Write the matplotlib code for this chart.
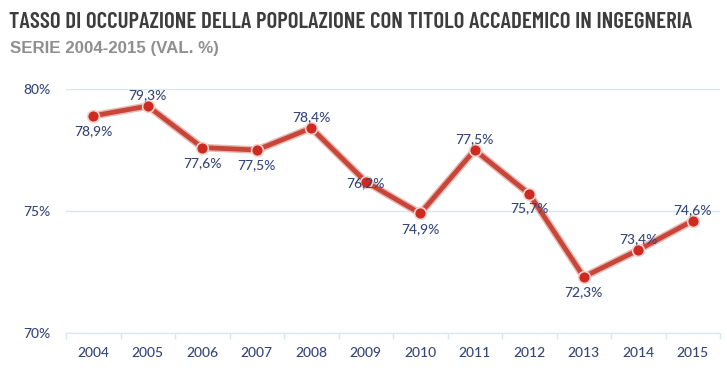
import matplotlib
matplotlib.use("Agg")
import matplotlib.pyplot as plt
import numpy as np

years = ["2004", "2005", "2006", "2007", "2008", "2009", "2010", "2011", "2012", "2013", "2014", "2015"]
values = [78.9, 79.3, 77.6, 77.5, 78.4, 76.2, 74.9, 77.5, 75.7, 72.3, 73.4, 74.6]
labels = ["78,9%", "79,3%", "77,6%", "77,5%", "78,4%", "76,2%", "74,9%", "77,5%", "75,7%", "72,3%", "73,4%", "74,6%"]
label_pos = ["below", "above", "below", "below", "above", "center", "below", "above", "below", "below", "above", "above"]
yticks = [70, 75, 80]
ytick_labels = ["70%", "75%", "80%"]

title = "TASSO DI OCCUPAZIONE DELLA POPOLAZIONE CON TITOLO ACCADEMICO IN INGEGNERIA"
subtitle = "SERIE 2004-2015 (VAL. %)"

fig = plt.figure(figsize=(7.27, 3.68), dpi=100)
ax = fig.add_axes([66/727, 1 - 333/368, (720 - 66)/727, (333 - 89)/368])

x = np.arange(len(years))
lab_color = "#34477a"
grid_color = "#d8e6f0"
lab_font = ["Lato", "DejaVu Sans"]

for yv in yticks:
    ax.axhline(yv, color=grid_color, lw=1.0, zorder=0)

# soft shadow under the line
ax.plot(x, values, color="#e9b8b0", lw=5.5, zorder=2, solid_capstyle="round", clip_on=False)
ax.plot(x, values, color="#c8453a", lw=3.4, zorder=3, solid_capstyle="round",
        marker="o", markersize=8.5, markerfacecolor="#cf2a22", markeredgecolor="#f3d4cc",
        markeredgewidth=1.2, clip_on=False)

offsets = {"above": 8, "below": -11, "center": -1}
for xi, v, t, p in zip(x, values, labels, label_pos):
    off = offsets[p]
    if years[xi] == "2012":
        off = -10
    ax.annotate(t, (xi, v), xytext=(0, off), textcoords="offset points",
                ha="center", va="center", fontsize=10, color=lab_color,
                family=lab_font, fontweight="medium", zorder=5)

ax.set_xlim(-0.5, len(years) - 0.5)
ax.set_ylim(70, 80)
ax.set_xticks(x)
ax.set_xticklabels(years, fontsize=10, color=lab_color, family=lab_font, fontweight="medium")
ax.set_xticks(np.arange(-0.5, len(years), 1), minor=True)
ax.tick_params(axis="x", which="major", length=0, pad=10)
ax.tick_params(axis="x", which="minor", length=4, color=grid_color, width=1)
ax.set_yticks(yticks)
ax.set_yticklabels(ytick_labels, fontsize=10, color=lab_color, family=lab_font, fontweight="medium")
ax.tick_params(axis="y", length=0, pad=11)
for s in ["top", "right", "left"]:
    ax.spines[s].set_visible(False)
ax.spines["bottom"].set_color(grid_color)
ax.patch.set_alpha(0)

t1 = fig.text(9/727, 1 - 22/368, title, fontsize=18, fontweight="semibold", color="#3d3d3d",
              family=["Barlow Condensed", "Roboto Condensed", "DejaVu Sans"], va="center", ha="left")
t2 = fig.text(10/727, 1 - 48/368, subtitle, fontsize=10.5, fontweight="bold", color="#8f8f8f",
              family=["Liberation Sans", "DejaVu Sans"], va="center", ha="left")

# fit text widths to the reference
fig.canvas.draw()
r = fig.canvas.get_renderer()
for t, target in [(t1, 682), (t2, 211)]:
    w = t.get_window_extent(r).width
    t.set_fontsize(t.get_fontsize() * target / w)

fig.savefig("out.png", dpi=100)
